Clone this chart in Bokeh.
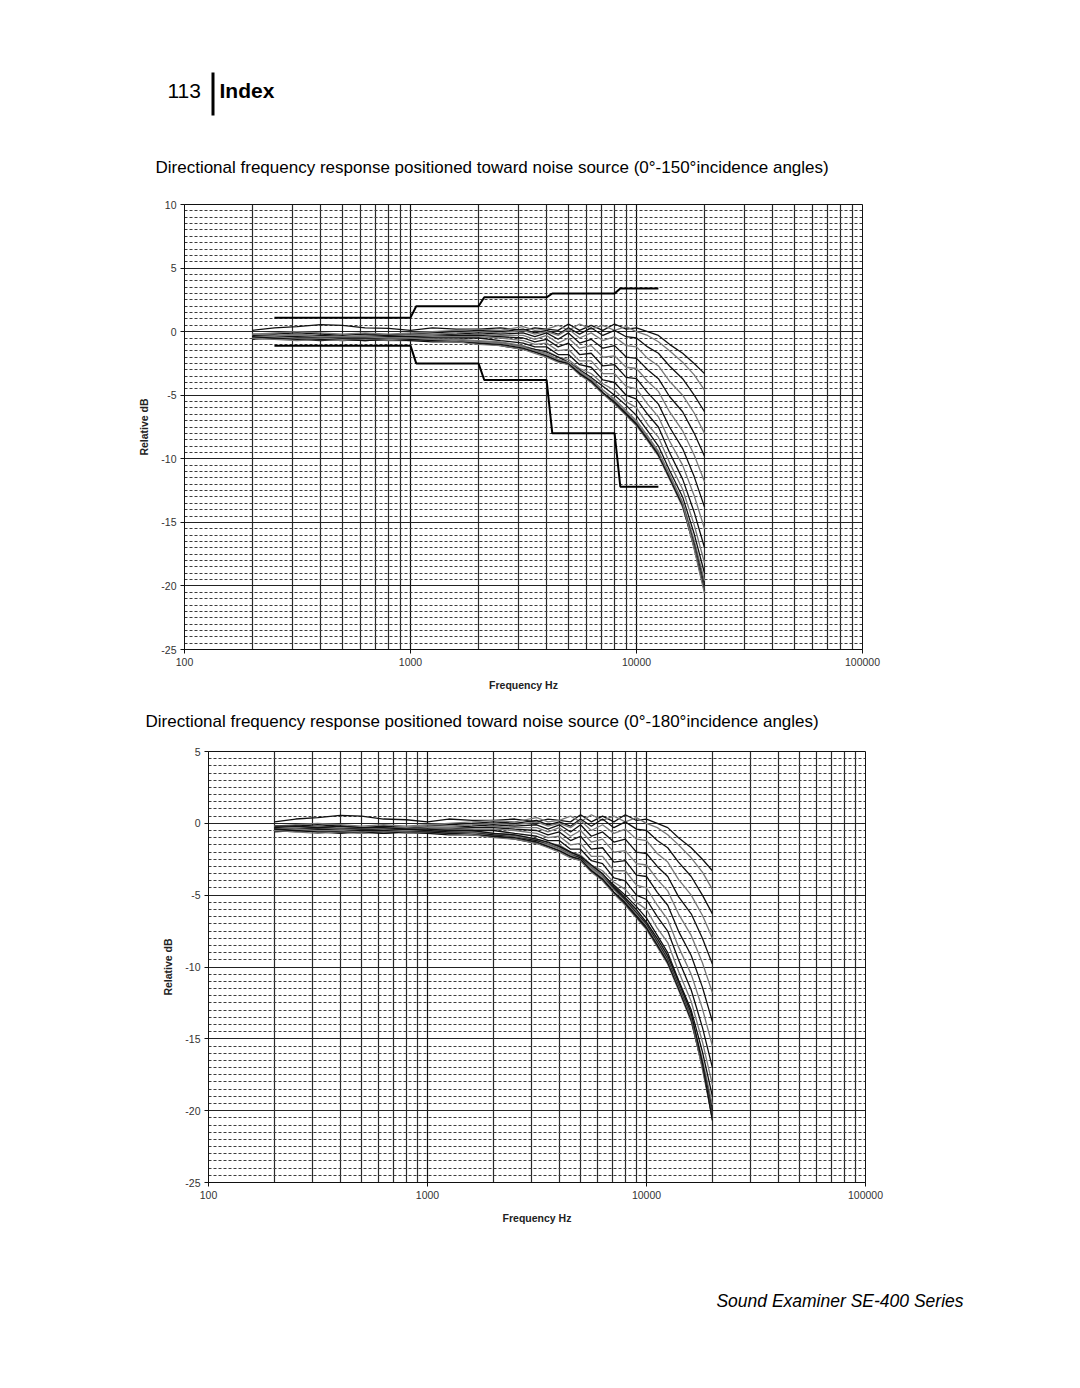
from bokeh.plotting import figure
from bokeh.models import FixedTicker, NumeralTickFormatter, PrintfTickFormatter
from bokeh.core.properties import value
from bokeh.embed import file_html
from bokeh.resources import INLINE

# ---------------- data ----------------
freq_hz = [200, 250, 315, 400, 500, 630, 800, 1000, 1250, 1600, 2000, 2500, 3150, 3550,
           4000, 4500, 5000, 5600, 6300, 7100, 8000, 9000, 10000, 11200, 12500, 14000,
           16000, 18000, 20000]

resp_000 = [0.1, 0.3, 0.4, 0.55, 0.5, 0.3, 0.25, 0.1, 0.3, 0.2, 0.2, 0.3, 0.1, 0.3, 0.2, 0.1, 0.6, 0.1, 0.5, 0.1, 0.6, 0.2, 0.3, 0.0, -0.3, -1.0, -1.7, -2.5, -3.3]
resp_010 = [-0.2, -0.1, 0.0, -0.1, -0.2, -0.1, -0.2, -0.1, 0.0, 0.1, 0.2, 0.1, 0.4, 0.1, 0.2, 0.5, 0.1, 0.6, 0.2, 0.5, 0.1, 0.4, 0.0, -0.3, -0.8, -1.5, -2.4, -3.4, -4.6]
resp_020 = [-0.3, -0.2, -0.1, -0.2, -0.3, -0.2, -0.3, -0.2, -0.1, 0.0, 0.1, 0.0, 0.2, -0.1, 0.1, -0.2, 0.3, -0.2, 0.3, -0.3, 0.1, -0.4, -0.5, -1.2, -1.7, -2.7, -3.7, -5.0, -6.3]
resp_030 = [-0.2, -0.3, -0.2, -0.3, -0.4, -0.3, -0.3, -0.2, -0.2, -0.1, 0.0, -0.1, 0.1, -0.2, 0.0, -0.3, 0.2, -0.5, -0.1, -0.7, -0.4, -1.1, -1.2, -2.1, -2.7, -3.9, -5.0, -6.4, -8.0]
resp_040 = [-0.4, -0.3, -0.4, -0.3, -0.4, -0.4, -0.3, -0.3, -0.3, -0.2, -0.1, -0.2, -0.1, -0.4, -0.1, -0.6, -0.1, -0.9, -0.6, -1.3, -1.1, -2.0, -2.1, -3.0, -3.7, -5.1, -6.3, -8.0, -9.8]
resp_050 = [-0.3, -0.4, -0.3, -0.4, -0.5, -0.4, -0.4, -0.3, -0.3, -0.3, -0.2, -0.3, -0.3, -0.6, -0.3, -0.9, -0.5, -1.3, -1.1, -2.0, -1.9, -2.8, -2.9, -3.9, -4.7, -6.3, -7.8, -9.7, -11.8]
resp_060 = [-0.4, -0.5, -0.4, -0.5, -0.5, -0.5, -0.4, -0.4, -0.4, -0.3, -0.3, -0.4, -0.5, -0.8, -0.6, -1.2, -0.9, -1.8, -1.7, -2.7, -2.6, -3.6, -3.7, -4.8, -5.7, -7.5, -9.2, -11.4, -13.8]
resp_070 = [-0.5, -0.4, -0.5, -0.6, -0.5, -0.6, -0.5, -0.5, -0.4, -0.4, -0.4, -0.5, -0.7, -1.0, -0.9, -1.5, -1.4, -2.3, -2.3, -3.3, -3.3, -4.3, -4.5, -5.7, -6.7, -8.6, -10.5, -12.9, -15.5]
resp_080 = [-0.4, -0.5, -0.6, -0.5, -0.6, -0.5, -0.6, -0.5, -0.5, -0.5, -0.5, -0.7, -0.9, -1.2, -1.2, -1.8, -1.8, -2.6, -2.8, -3.8, -4.0, -5.0, -5.3, -6.5, -7.5, -9.5, -11.6, -14.2, -17.0]
resp_090 = [-0.5, -0.6, -0.5, -0.6, -0.7, -0.6, -0.5, -0.6, -0.6, -0.6, -0.7, -0.8, -1.1, -1.4, -1.5, -2.0, -2.2, -2.9, -3.3, -4.1, -4.6, -5.5, -6.0, -7.3, -8.3, -10.3, -12.4, -15.2, -18.2]
resp_100 = [-0.6, -0.5, -0.6, -0.7, -0.6, -0.7, -0.6, -0.6, -0.7, -0.7, -0.8, -0.9, -1.2, -1.4, -1.6, -2.0, -2.4, -3.0, -3.6, -4.3, -5.0, -5.8, -6.6, -7.8, -9.0, -10.9, -13.0, -15.9, -19.0]
resp_110 = [-0.5, -0.6, -0.7, -0.6, -0.7, -0.6, -0.7, -0.7, -0.7, -0.8, -0.9, -1.0, -1.3, -1.5, -1.7, -2.2, -2.5, -3.2, -3.8, -4.6, -5.3, -6.2, -7.0, -8.2, -9.4, -11.2, -13.4, -16.4, -19.6]
resp_120 = [-0.4, -0.5, -0.5, -0.6, -0.6, -0.7, -0.6, -0.7, -0.8, -0.8, -0.9, -1.1, -1.4, -1.6, -1.9, -2.3, -2.6, -3.3, -3.9, -4.8, -5.5, -6.4, -7.2, -8.4, -9.6, -11.4, -13.6, -16.7, -20.0]
resp_130 = [-0.3, -0.4, -0.5, -0.5, -0.6, -0.5, -0.6, -0.6, -0.7, -0.8, -1.0, -1.1, -1.4, -1.7, -2.0, -2.4, -2.6, -3.4, -4.0, -4.9, -5.7, -6.6, -7.4, -8.6, -9.8, -11.6, -13.8, -16.9, -20.3]
resp_140 = [-0.3, -0.3, -0.4, -0.4, -0.5, -0.5, -0.5, -0.6, -0.7, -0.7, -0.9, -1.0, -1.3, -1.6, -1.9, -2.3, -2.5, -3.3, -3.9, -4.8, -5.6, -6.5, -7.3, -8.5, -9.7, -11.5, -13.7, -17.0, -20.4]
resp_150 = [-0.2, -0.3, -0.3, -0.4, -0.4, -0.4, -0.5, -0.5, -0.6, -0.7, -0.8, -0.9, -1.2, -1.5, -1.8, -2.2, -2.4, -3.1, -3.7, -4.6, -5.4, -6.3, -7.1, -8.3, -9.5, -11.3, -13.5, -17.1, -20.6]
resp_160 = [-0.3, -0.2, -0.3, -0.3, -0.4, -0.4, -0.4, -0.5, -0.6, -0.6, -0.8, -0.9, -1.2, -1.4, -1.7, -2.1, -2.4, -3.0, -3.6, -4.5, -5.3, -6.2, -7.0, -8.2, -9.4, -11.2, -13.4, -16.8, -20.5]
resp_170 = [-0.2, -0.3, -0.2, -0.3, -0.3, -0.4, -0.3, -0.4, -0.5, -0.6, -0.7, -0.9, -1.1, -1.4, -1.7, -2.1, -2.3, -3.0, -3.6, -4.4, -5.2, -6.1, -6.9, -8.1, -9.3, -11.1, -13.3, -16.8, -20.6]
resp_180 = [-0.2, -0.2, -0.3, -0.2, -0.3, -0.3, -0.4, -0.4, -0.5, -0.5, -0.7, -0.8, -1.1, -1.3, -1.6, -2.0, -2.3, -2.9, -3.5, -4.4, -5.2, -6.0, -6.9, -8.0, -9.2, -11.0, -13.2, -16.7, -20.7]

curves_0_150 = [resp_000, resp_010, resp_020, resp_030, resp_040, resp_050, resp_060, resp_070,
                resp_080, resp_090, resp_100, resp_110, resp_120, resp_130, resp_140, resp_150]
curves_0_180 = curves_0_150 + [resp_160, resp_170, resp_180]

limit_hz = [250, 1000, 1060, 2000, 2120, 4000, 4240, 8000, 8480, 12500]
upper_db = [1.1, 1.1, 2.0, 2.0, 2.7, 2.7, 3.0, 3.0, 3.4, 3.4]
lower_db = [-1.1, -1.1, -2.5, -2.5, -3.8, -3.8, -8.0, -8.0, -12.2, -12.2]

x_major_ticks = [100, 1000, 10000, 100000]
x_minor_ticks = [m * d for d in (100, 1000, 10000) for m in range(2, 10)]

header_page = "113"
header_title = "Index"
subtitle_1 = "Directional frequency response positioned toward noise source (0\u00b0-150\u00b0incidence angles)"
subtitle_2 = "Directional frequency response positioned toward noise source (0\u00b0-180\u00b0incidence angles)"
footer = "Sound Examiner SE-400 Series"

FONT = "Liberation Sans"
LINE_COLORS = ["#111111", "#777777"]


def text_fig(height):
    p = figure(width=1080, height=height, x_range=(0, 1080), y_range=(height, 0),
               x_axis_location=None, y_axis_location=None,
               output_backend="svg", toolbar_location=None,
               min_border=0, min_border_left=0, min_border_right=0,
               min_border_top=0, min_border_bottom=0,
               background_fill_color="white", border_fill_color="white")
    p.outline_line_color = None
    p.grid.visible = False
    return p


def add_text(p, x, y, text, size, style="normal", align="left"):
    p.text(x=[x], y=[y], text=[text], text_font=value(FONT), text_font_size=value(size),
           text_font_style=style, text_align=align, text_baseline="middle", text_color="black")


def make_chart(height, left, right, top, bottom, ymin, ymax):
    p = figure(width=1080, height=height, x_axis_type="log",
               x_range=(100, 100000), y_range=(ymin, ymax),
               output_backend="svg", toolbar_location=None,
               min_border_left=left, min_border_right=right,
               min_border_top=top, min_border_bottom=bottom,
               background_fill_color="white", border_fill_color="white")
    p.outline_line_color = "#111111"
    p.outline_line_width = 1

    p.xgrid.ticker = FixedTicker(ticks=x_major_ticks, minor_ticks=x_minor_ticks)
    p.xgrid.grid_line_color = "#111111"
    p.xgrid.grid_line_width = 1.2
    p.xgrid.minor_grid_line_color = "#2a2a2a"
    p.xgrid.minor_grid_line_width = 1.2

    y_major = list(range(ymin, ymax + 1, 5))
    y_minor = [ymin + 0.5 * k for k in range(1, 2 * (ymax - ymin)) if (0.5 * k) % 5 != 0]
    p.ygrid.ticker = FixedTicker(ticks=y_major, minor_ticks=y_minor)
    p.ygrid.grid_line_color = "#222222"
    p.ygrid.grid_line_width = 1.2
    p.ygrid.minor_grid_line_color = "#3c3c3c"
    p.ygrid.minor_grid_line_dash = "3 2"
    p.ygrid.minor_grid_line_width = 1

    p.xaxis.ticker = FixedTicker(ticks=x_major_ticks)
    p.xaxis.formatter = NumeralTickFormatter(format="0")
    p.yaxis.ticker = FixedTicker(ticks=y_major)
    p.yaxis.formatter = PrintfTickFormatter(format="%d")
    for ax in (p.xaxis, p.yaxis):
        ax.axis_line_color = "#111111"
        ax.major_tick_line_color = "#111111"
        ax.major_tick_out = 4
        ax.major_tick_in = 0
        ax.minor_tick_line_color = None
        ax.major_label_text_font = FONT
        ax.major_label_text_font_size = "10.5px"
        ax.major_label_text_color = "#333333"
        ax.major_label_standoff = 4
        ax.axis_label_text_font = FONT
        ax.axis_label_text_font_style = "bold"
        ax.axis_label_text_font_size = "10.5px"
        ax.axis_label_text_color = "#222222"
    p.xaxis.axis_label = "Frequency Hz"
    p.xaxis.axis_label_standoff = 10
    p.yaxis.axis_label = "Relative dB"
    p.yaxis.axis_label_standoff = 8
    return p


# ---------------- page header + subtitle 1 (page y 0..190) ----------------
head = text_fig(190)
add_text(head, 167, 90, header_page, "21px")
head.quad(left=[211], right=[214], top=[72], bottom=[115], fill_color="black", line_color=None)
add_text(head, 219, 90, header_title, "21px", style="bold")
add_text(head, 155, 167, subtitle_1, "17px")

# ---------------- chart 1 (page y 190..700) ----------------
p1 = make_chart(510, 184, 218, 14, 51, -25, 10)
for i, resp in enumerate(curves_0_150):
    p1.line(freq_hz, resp, line_color=LINE_COLORS[i % 2], line_width=1.3)
p1.line(limit_hz, upper_db, line_color="black", line_width=2)
p1.line(limit_hz, lower_db, line_color="black", line_width=2)

# ---------------- subtitle 2 (page y 700..740) ----------------
sub2 = text_fig(40)
add_text(sub2, 145, 21, subtitle_2, "17px")

# ---------------- chart 2 (page y 740..1250) ----------------
p2 = make_chart(510, 208, 215, 11, 68, -25, 5)
for i, resp in enumerate(curves_0_180):
    p2.line(freq_hz, resp, line_color=LINE_COLORS[i % 2], line_width=1.3)

# ---------------- footer (page y 1250..1388) ----------------
foot = text_fig(138)
add_text(foot, 963, 50, footer, "17.5px", style="italic", align="right")

open("out.html", "w").write(file_html([head, p1, sub2, p2, foot], INLINE))
